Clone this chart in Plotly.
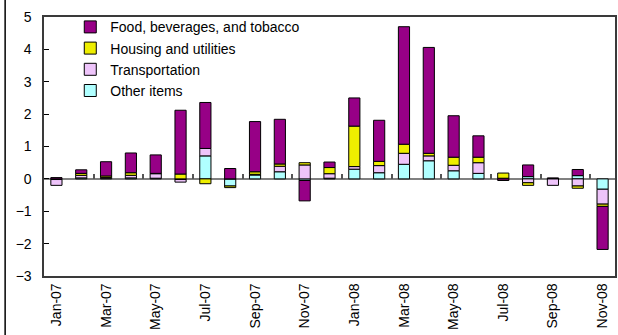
import plotly.graph_objects as go

months = ["Jan-07", "Feb-07", "Mar-07", "Apr-07", "May-07", "Jun-07", "Jul-07", "Aug-07",
          "Sep-07", "Oct-07", "Nov-07", "Dec-07", "Jan-08", "Feb-08", "Mar-08", "Apr-08",
          "May-08", "Jun-08", "Jul-08", "Aug-08", "Sep-08", "Oct-08", "Nov-08"]

# Contributions (percentage points), stacked in this order from the zero line outward
other_items = [-0.02, 0.03, 0.02, 0.03, 0.02, -0.02, 0.71, -0.22, 0.12, 0.22, -0.05, 0.02,
               0.30, 0.19, 0.45, 0.56, 0.25, 0.17, 0.00, 0.07, 0.01, 0.10, -0.32]
transportation = [-0.18, 0.08, 0.02, 0.08, 0.14, -0.08, 0.23, 0.00, 0.02, 0.17, 0.43, 0.14,
                  0.08, 0.22, 0.34, 0.15, 0.17, 0.33, 0.02, -0.12, -0.20, -0.22, -0.46]
housing = [0.00, 0.06, 0.05, 0.08, 0.01, 0.15, -0.15, -0.05, 0.08, 0.07, 0.07, 0.19,
           1.25, 0.13, 0.28, 0.08, 0.25, 0.17, 0.16, -0.08, 0.00, -0.07, -0.07]
food = [0.04, 0.11, 0.44, 0.61, 0.57, 1.97, 1.42, 0.32, 1.55, 1.38, -0.63, 0.17,
        0.87, 1.27, 3.63, 3.27, 1.28, 0.66, -0.05, 0.36, 0.02, 0.19, -1.33]

series = [
    ("Other items", other_items, "#B0FFFF"),
    ("Transportation", transportation, "#EEC4FA"),
    ("Housing and utilities", housing, "#EEEE00"),
    ("Food, beverages, and tobacco", food, "#970086"),
]

x_pos = list(range(len(months)))
font_family = "Arial, Liberation Sans, sans-serif"

fig = go.Figure()
for name, vals, color in series:
    fig.add_trace(go.Bar(
        x=x_pos, y=vals, name=name,
        marker=dict(color=color, line=dict(color="#000000", width=1)),
        width=0.45,
    ))

# Invisible trace carrying the boundary ticks along the zero line
fig.add_trace(go.Scatter(x=[x_pos[0], x_pos[-1]], y=[0, 0], xaxis="x2", mode="none",
                         showlegend=False, hoverinfo="skip"))

fig.update_layout(
    width=618, height=335,
    margin=dict(l=44, r=1, t=17, b=59),
    barmode="relative",
    plot_bgcolor="white", paper_bgcolor="white",
    font=dict(family=font_family, size=14, color="#000000"),
    showlegend=True,
    legend=dict(
        x=0.046, y=1.022, xanchor="left", yanchor="top",
        traceorder="reversed",
        bgcolor="rgba(0,0,0,0)",
        font=dict(family=font_family, size=14, color="#000000"),
        tracegroupgap=0,
    ),
    xaxis=dict(
        range=[-0.5, len(months) - 0.5],
        tickmode="array",
        tickvals=x_pos[::2],
        ticktext=months[::2],
        tickangle=-90,
        ticks="",
        showgrid=False, zeroline=False,
        showline=True, linecolor="#3a3a3a", linewidth=1.5, mirror=True,
        tickfont=dict(family=font_family, size=14),
    ),
    xaxis2=dict(
        overlaying="x", anchor="free", position=0.375, side="bottom",
        range=[-0.5, len(months) - 0.5],
        tickmode="array",
        tickvals=[i + 0.5 for i in x_pos[1:-1:2]],
        ticks="inside", ticklen=5, tickwidth=1.5, tickcolor="#555555",
        showticklabels=False, showgrid=False, zeroline=False, showline=False,
    ),
    yaxis=dict(
        range=[-3, 5],
        tickmode="linear", tick0=-3, dtick=1,
        ticks="inside", ticklen=5, tickcolor="#000000",
        ticksuffix="\u00a0\u00a0",
        showgrid=False,
        zeroline=True, zerolinecolor="#808080", zerolinewidth=2,
        showline=True, linecolor="#3a3a3a", linewidth=1.5, mirror=True,
        tickfont=dict(family=font_family, size=14),
    ),
    shapes=[dict(type="line", xref="paper", yref="paper",
                 x0=-39 / 573, x1=-39 / 573, y0=-59 / 259, y1=276 / 259,
                 line=dict(color="#000000", width=1.5))],
)

fig.write_html("out.html")
